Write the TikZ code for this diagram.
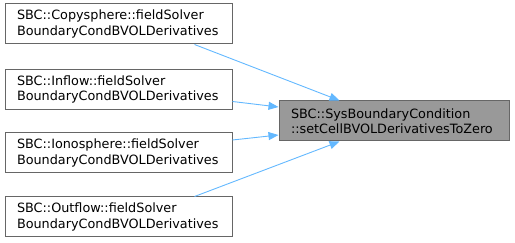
\documentclass[tikz,border=0pt]{standalone}
\usepackage{fontspec}
\setmainfont{DejaVu Sans}
\usetikzlibrary{arrows.meta,calc}
\definecolor{edgeblue}{HTML}{63B8FF}
\definecolor{boxgray}{HTML}{666666}
\definecolor{fillgray}{HTML}{999999}
\tikzset{
  fnbox/.style={draw=boxgray, fill=white, line width=1pt, rectangle, minimum height=40pt,
    text width=#1, inner xsep=12pt, inner ysep=0pt, align=left, font=\fontsize{12.8}{15.5}\selectfont},
  curbox/.style={fnbox=#1, fill=fillgray},
  callarrow/.style={draw=edgeblue, line width=0.9pt, -{Triangle[length=10pt,width=8pt]}}
}
\begin{document}
\begin{tikzpicture}[x=1pt,y=-1pt]
\useasboundingbox (0,0) rectangle (515,243);
\node[fnbox=203pt] (b1) at (118.5,24) {SBC::Copysphere::fieldSolver\\BoundaryCondBVOLDerivatives};
\node[fnbox=203pt] (b2) at (118.5,89.5) {SBC::Inflow::fieldSolver\\BoundaryCondBVOLDerivatives};
\node[fnbox=203pt] (b3) at (118.5,153) {SBC::Ionosphere::fieldSolver\\BoundaryCondBVOLDerivatives};
\node[fnbox=203pt] (b4) at (118.5,217) {SBC::Outflow::fieldSolver\\BoundaryCondBVOLDerivatives};
\node[curbox=206pt] (t) at (394,121) {SBC::SysBoundaryCondition\\::setCellBVOLDerivativesToZero};
\draw[callarrow] ($(b1.south west)+(190,0)$) -- ($(t.north west)+(61,0)$);
\draw[callarrow] ($(b2.east)+(0,12)$) -- ($(t.west)+(0,-14)$);
\draw[callarrow] ($(b3.east)+(0,-13)$) -- ($(t.west)+(0,14)$);
\draw[callarrow] ($(b4.north west)+(190,0)$) -- ($(t.south west)+(61,0)$);
\end{tikzpicture}
\end{document}
